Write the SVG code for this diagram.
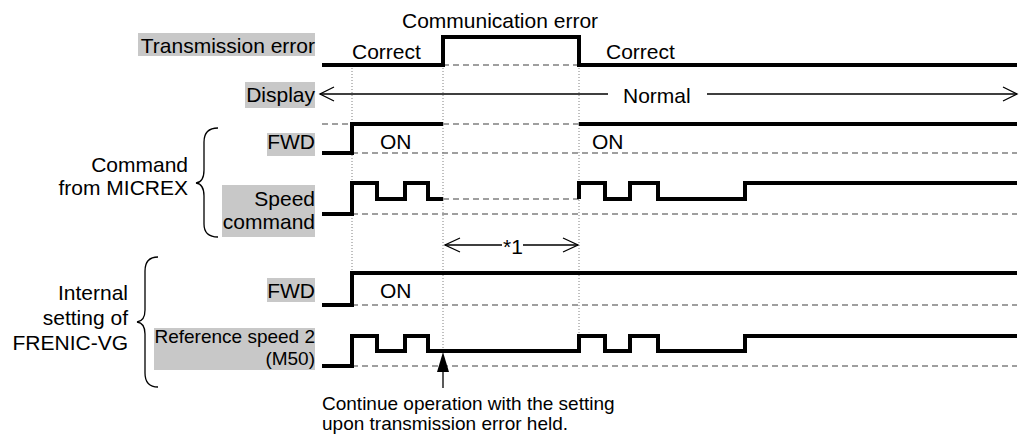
<svg xmlns="http://www.w3.org/2000/svg" width="1021" height="436" viewBox="0 0 1021 436">
<style>
text{font-family:"Liberation Sans",Arial,sans-serif;font-size:21px;fill:#000}
.r{text-anchor:end}
.s19{font-size:19px}
.box{fill:#c8c8c8}
.sig{fill:none;stroke:#000;stroke-width:4;stroke-linejoin:miter;stroke-linecap:butt}
.dash{fill:none;stroke:#808080;stroke-width:1.5;stroke-dasharray:6 4}
.dot{fill:none;stroke:#808080;stroke-width:1;stroke-dasharray:1 2}
.thin{fill:none;stroke:#000;stroke-width:1.3}
.brace{fill:none;stroke:#000;stroke-width:1.3}
</style>
<rect width="1021" height="436" fill="#fff"/>
<g id="guides">
<path class="dot" d="M352,68 V273 M443,68 V350 M579,68 V335"/>
</g>
<g id="transmission-error">
<rect class="box" x="138" y="33" width="177" height="23"/>
<text class="r" x="315" y="53">Transmission error</text>
<path class="dash" d="M443,65 H579"/>
<path class="sig" d="M322,65 H443 V37 H579 V65 H1017"/>
<text x="352" y="59">Correct</text>
<text x="402" y="28">Communication error</text>
<text x="606" y="59">Correct</text>
</g>
<g id="display">
<rect class="box" x="245" y="82" width="70" height="26"/>
<text class="r" x="315" y="102">Display</text>
<text x="623" y="103">Normal</text>
</g>
<g id="micrex-brace">
<text class="r" x="188" y="172">Command</text>
<text class="r" x="188" y="195">from MICREX</text>
<path class="brace" d="M218,128 Q204,128 204,142 V170 Q204,182 196,183 Q204,184 204,196 V224 Q204,237 218,237"/>
</g>
<g id="fwd-micrex">
<rect class="box" x="267" y="133" width="48" height="23"/>
<text class="r" x="315" y="149">FWD</text>
<path class="dash" d="M322,124 H352 M443,124 H579 M352,153 H1017"/>
<path class="sig" d="M322,153 H352 V124 H443 M579,124 H1017"/>
<text x="380" y="149">ON</text>
<text x="592" y="149">ON</text>
</g>
<g id="speed-command">
<rect class="box" x="222" y="185" width="93" height="52"/>
<text class="r" x="315" y="206">Speed</text>
<text class="r" x="315" y="229">command</text>
<path class="dash" d="M443,199 H579 M352,214 H1017"/>
<path class="sig" d="M322,214 H352 V183 H377 V199 H405 V183 H428 V199 H443 M579,199 V183 H605 V199 H630 V183 H658 V199 H745 V183 H1017"/>
</g>
<g id="internal-brace">
<text class="r" x="128" y="300">Internal</text>
<text class="r" x="128" y="325">setting of</text>
<text class="r" x="128" y="350">FRENIC-VG</text>
<path class="brace" d="M158,257 Q145,257 145,271 V310 Q145,321 137,322 Q145,323 145,334 V373 Q145,387 158,387"/>
</g>
<g id="fwd-internal">
<rect class="box" x="267" y="278" width="48" height="24"/>
<text class="r" x="315" y="298">FWD</text>
<path class="dash" d="M352,305 H1017"/>
<path class="sig" d="M322,305 H352 V273 H1017"/>
<text x="380" y="298">ON</text>
</g>
<g id="reference-speed-2">
<rect class="box" x="154" y="328" width="161" height="42"/>
<text class="r s19" x="315" y="343">Reference speed 2</text>
<text class="r s19" x="315" y="365">(M50)</text>
<path class="dash" d="M352,366 H1017"/>
<path class="sig" d="M322,366 H352 V336 H377 V351 H405 V336 H428 V351 H579 V336 H605 V351 H630 V336 H658 V351 H745 V336 H1017"/>
</g>
<g id="note">
<text class="s19" x="322" y="410">Continue operation with the setting</text>
<text class="s19" x="322" y="430">upon transmission error held.</text>
</g>
<g id="connectors">
<path class="thin" d="M320,94 H608 M707,94 H1017"/>
<polyline class="thin" points="334,87 320,94 334,101"/>
<polyline class="thin" points="1003,87 1017,94 1003,101"/>
<path class="thin" d="M445,245 H502 M523,245 H578"/>
<polyline class="thin" points="460,238 445,245 460,252"/>
<polyline class="thin" points="563,238 578,245 563,252"/>
<text x="503" y="254">*1</text>
<path class="thin" d="M443,388 V370"/>
<polygon points="443,352 437,372 449,372" fill="#000"/>
</g>
</svg>
